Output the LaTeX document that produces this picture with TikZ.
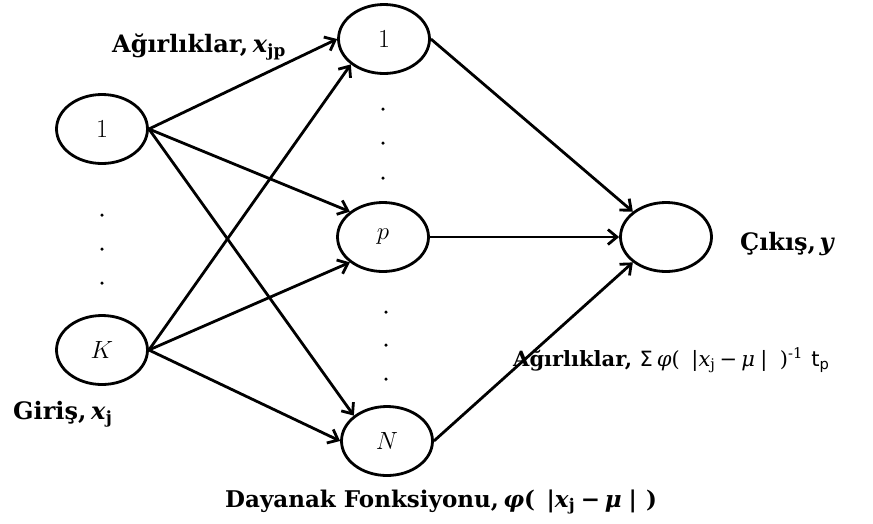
\documentclass[tikz,border=0pt]{standalone}
\usepackage{fontspec}
\newfontfamily\labfont{DejaVu Serif}
\newfontfamily\labsans{DejaVu Sans}
\usetikzlibrary{shapes.geometric,arrows.meta}
\begin{document}
\begin{tikzpicture}[x=1pt,y=-1pt,
  unit/.style={draw, ellipse, line width=2.8pt, minimum width=91pt, minimum height=69pt, inner sep=0pt, font=\fontsize{26}{30}\selectfont},
  conn/.style={line width=2.8pt, -{Straight Barb[length=9pt,width=15pt]}},
  lab/.style={anchor=base west, inner sep=0pt, font=\fontsize{24}{28}\selectfont\labfont\bfseries},
  biglab/.style={anchor=base west, inner sep=0pt, font=\fontsize{23}{27}\selectfont\labfont\bfseries},
  smalllab/.style={anchor=base west, inner sep=0pt, font=\fontsize{21}{25}\selectfont\labfont\bfseries},
  dotmark/.style={circle, fill, inner sep=0pt, minimum size=3.5pt}
]
\useasboundingbox (0,0) rectangle (873,523);
% input layer
\node[unit] (i1) at (102,129) {1};
\node[unit] (iK) at (102,350) {$K$};
% hidden layer
\node[unit] (h1) at (384,39) {1};
\node[unit] (hp) at (383,237) {$p$};
\node[unit] (hN) at (387,441) {$N$};
% output
\node[unit] (o) at (666,237) {};
% dots
\node[dotmark] (a1) at (102,215) {};
\node[dotmark] (a2) at (102,249) {};
\node[dotmark] (a3) at (102,283) {};
\node[dotmark] (b1) at (383,109) {};
\node[dotmark] (b2) at (383,143) {};
\node[dotmark] (b3) at (383,178) {};
\node[dotmark] (c1) at (386,312) {};
\node[dotmark] (c2) at (386,345) {};
\node[dotmark] (c3) at (386,379) {};
% connectors
\draw[conn] (i1.east) -- (h1.west);
\draw[conn] (i1.east) -- (hp.north west);
\draw[conn] (i1.east) -- (hN.north west);
\draw[conn] (iK.east) -- (h1.south west);
\draw[conn] (iK.east) -- (hp.south west);
\draw[conn] (iK.east) -- (hN.west);
\draw[conn] (h1.east) -- (o.north west);
\draw[conn] (hp.east) -- (o.west);
\draw[conn] (hN.east) -- (o.south west);
% labels
\node[lab] (l1) at (112,52) {Ağırlıklar,\hspace{0.2em}\textit{x}\textsubscript{jp}};
\node[lab] (l2) at (740,250) {Çıkış,\hspace{0.15em}\textit{y}};
\node[lab] (l3) at (13,419) {Giriş,\hspace{0.2em}\textit{x}\textsubscript{j}};
\node[smalllab] (l4) at (513,366) {Ağırlıklar,\hspace{0.35em}{\mdseries{\labsans Σ}\hspace{0.2em}\textit{φ}(\hspace{0.55em}|\textit{x}\textsubscript{j}\hspace{0.2em}−\hspace{0.2em}\textit{μ}\hspace{0.25em}|\hspace{0.6em})\textsuperscript{-1}\hspace{0.4em}{\labsans t\textsubscript{p}}}};
\node[biglab] (l5) at (225,507) {Dayanak Fonksiyonu,\hspace{0.2em}\textit{φ}(\hspace{0.5em}|\textit{x}\textsubscript{j}\hspace{0.25em}−\hspace{0.2em}\textit{μ}\hspace{0.3em}|\hspace{0.4em})};
\end{tikzpicture}
\end{document}
